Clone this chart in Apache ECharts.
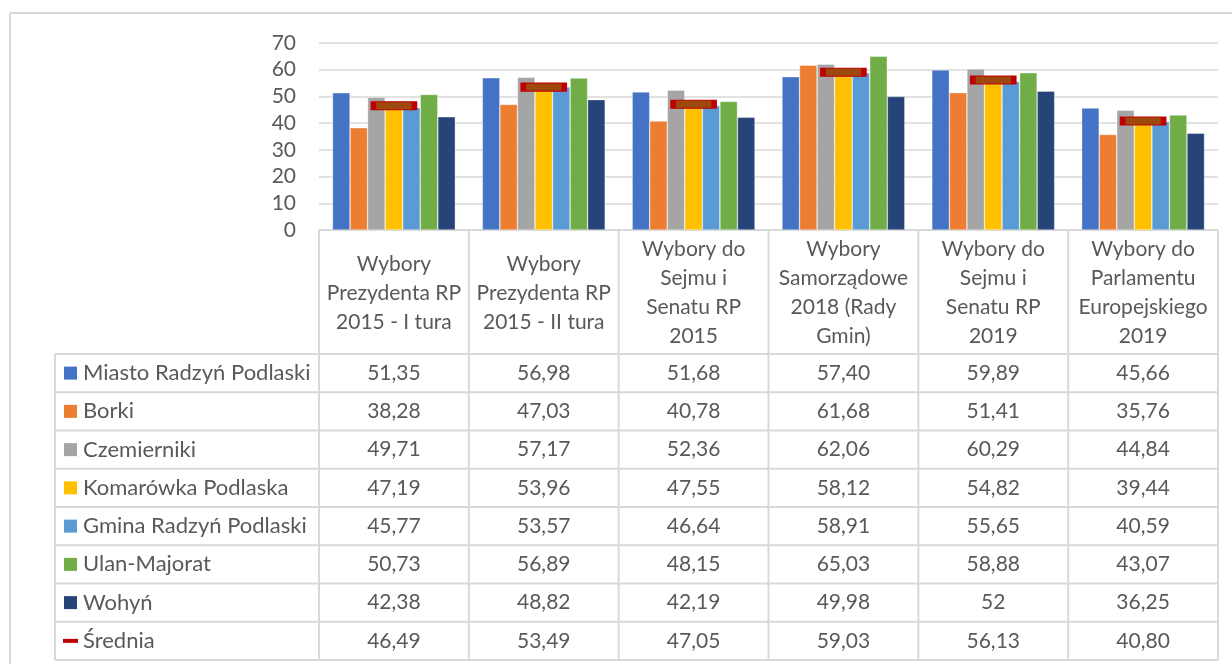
<!DOCTYPE html>
<html>
<head>
<meta charset="utf-8">
<script src="https://cdn.jsdelivr.net/npm/echarts@6/dist/echarts.min.js"></script>
<style>
  html, body { margin: 0; padding: 0; background: #fff; }
  #chart { width: 1232px; height: 664px; }
</style>
</head>
<body>
<div id="chart"></div>
<script>
// kategorie (nagłówki tabeli)
var categories = [
  "Wybory\nPrezydenta RP\n2015 - I tura",
  "Wybory\nPrezydenta RP\n2015 - II tura",
  "Wybory do\nSejmu i\nSenatu RP\n2015",
  "Wybory\nSamorządowe\n2018 (Rady\nGmin)",
  "Wybory do\nSejmu i\nSenatu RP\n2019",
  "Wybory do\nParlamentu\nEuropejskiego\n2019"
];
var yTicks = [0, 10, 20, 30, 40, 50, 60, 70];

var miasto = [51.35, 56.98, 51.68, 57.40, 59.89, 45.66];
var borki = [38.28, 47.03, 40.78, 61.68, 51.41, 35.76];
var czemierniki = [49.71, 57.17, 52.36, 62.06, 60.29, 44.84];
var komarowka = [47.19, 53.96, 47.55, 58.12, 54.82, 39.44];
var gmina = [45.77, 53.57, 46.64, 58.91, 55.65, 40.59];
var ulan = [50.73, 56.89, 48.15, 65.03, 58.88, 43.07];
var wohyn = [42.38, 48.82, 42.19, 49.98, 52, 36.25];
var srednia = [46.49, 53.49, 47.05, 59.03, 56.13, 40.80];

var seriesNames = ["Miasto Radzyń Podlaski", "Borki", "Czemierniki", "Komarówka Podlaska",
  "Gmina Radzyń Podlaski", "Ulan-Majorat", "Wohyń", "Średnia"];
var seriesData = [miasto, borki, czemierniki, komarowka, gmina, ulan, wohyn, srednia];
var colors = ["#4472C4", "#ED7D31", "#A5A5A5", "#FFC000", "#5B9BD5", "#70AD47", "#264478"];

var FONT = "Lato";
var TXT = "#595959";
var LINE = "#d9d9d9";
var gridLeft = 319, gridRight = 1218, gridTop = 43, gridBottom = 230;
var headerBottom = 354, rowH = 38.25, legendLeft = 55;

function fmt(v) {
  return Number.isInteger(v) ? String(v) : v.toFixed(2).replace(".", ",");
}

var chart = echarts.init(document.getElementById("chart"));

var series = [];
for (var i = 0; i < 7; i++) {
  series.push({
    name: seriesNames[i],
    type: "bar",
    barGap: "0%",
    barCategoryGap: "18%",
    itemStyle: { color: colors[i], borderColor: "rgba(255,255,255,0.6)", borderWidth: 0.6 },
    data: seriesData[i]
  });
}
series.push({
  name: seriesNames[7],
  type: "scatter",
  symbol: "rect",
  symbolSize: [41, 8],
  z: 5,
  itemStyle: { color: "#9E480E", borderColor: "#C00000", borderWidth: 2.5, opacity: 1 },
  data: srednia
});

chart.setOption({
  animation: false,
  grid: { left: gridLeft, right: 1232 - gridRight, top: gridTop, bottom: 664 - gridBottom, containLabel: false },
  xAxis: {
    type: "category",
    data: categories,
    axisLine: { show: false },
    axisTick: { show: false },
    axisLabel: { show: false }
  },
  yAxis: {
    type: "value",
    min: yTicks[0],
    max: yTicks[yTicks.length - 1],
    interval: 10,
    axisLine: { show: false },
    axisTick: { show: false },
    splitLine: { lineStyle: { color: LINE, width: 1.5 } },
    axisLabel: { fontFamily: FONT, fontSize: 21, color: TXT, margin: 23 }
  },
  series: series
});

// tabela danych pod wykresem
var g = [];
function hline(x1, x2, y) {
  g.push({ type: "line", shape: { x1: x1, y1: y, x2: x2, y2: y }, style: { stroke: LINE, lineWidth: 2 }, silent: true });
}
function vline(x, y1, y2) {
  g.push({ type: "line", shape: { x1: x, y1: y1, x2: x, y2: y2 }, style: { stroke: LINE, lineWidth: 2 }, silent: true });
}
function text(x, y, s, align, size) {
  g.push({
    type: "text", x: x, y: y, silent: true,
    style: { text: s, fill: TXT, font: (size || 21) + "px " + FONT, align: align || "center", verticalAlign: "middle", lineHeight: 29 }
  });
}

// ramka całego wykresu
hline(10, 1232, 13);
vline(10, 13, 664);

var tableBottom = headerBottom + rowH * seriesNames.length;
var colW = (gridRight - gridLeft) / categories.length;
hline(gridLeft, gridRight, gridBottom);
hline(legendLeft, gridRight, headerBottom);
for (var r = 1; r <= seriesNames.length; r++) hline(legendLeft, gridRight, headerBottom + rowH * r);
vline(legendLeft, headerBottom, tableBottom);
for (var c = 0; c <= categories.length; c++) vline(gridLeft + colW * c, gridBottom, tableBottom);

for (var c = 0; c < categories.length; c++) {
  var cx = chart.convertToPixel({ xAxisIndex: 0 }, c);
  text(cx, (gridBottom + headerBottom) / 2 + 1, categories[c]);
  for (var r = 0; r < seriesNames.length; r++) {
    text(cx, headerBottom + rowH * (r + 0.5), fmt(seriesData[r][c]));
  }
}
for (var r = 0; r < seriesNames.length; r++) {
  var cy = headerBottom + rowH * (r + 0.5);
  if (r < 7) {
    g.push({ type: "rect", shape: { x: 64, y: cy - 6.5, width: 13, height: 13 }, style: { fill: colors[r] }, silent: true });
  } else {
    g.push({ type: "rect", shape: { x: 63, y: cy - 2, width: 15, height: 4 }, style: { fill: "#C00000" }, silent: true });
  }
  text(83, cy, seriesNames[r], "left", 22);
}

chart.setOption({ graphic: g });
</script>
</body>
</html>
